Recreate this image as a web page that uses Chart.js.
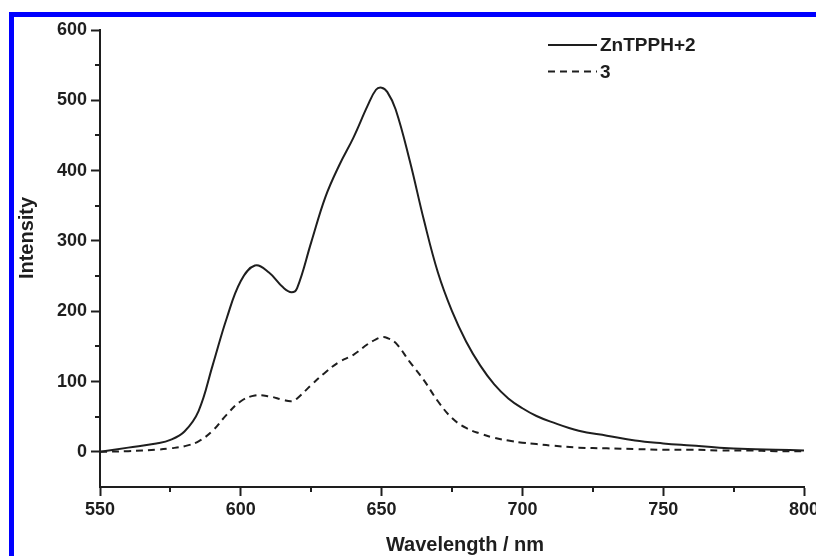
<!DOCTYPE html>
<html>
<head>
<meta charset="utf-8">
<script src="https://cdn.jsdelivr.net/npm/chart.js@4/dist/chart.umd.min.js"></script>
<style>
  html, body { margin: 0; padding: 0; background: #fff; }
  #wrap { position: relative; width: 816px; height: 556px; overflow: hidden; }
  #frame { position: absolute; left: 9px; top: 12px; width: 900px; height: 600px;
           border-top: 5px solid #0000ff; border-left: 5px solid #0000ff; }
  #chart { position: absolute; left: 0; top: 0; }
</style>
</head>
<body>
<div id="wrap">
  <div id="frame"></div>
  <canvas id="chart" width="816" height="556"></canvas>
</div>
<script>
// wavelength (nm)
const wavelengths = [550, 560, 570, 575, 580, 585, 590, 595, 600, 605,
  610, 615, 618, 620, 625, 630, 635, 640, 645, 648,
  650, 652, 655, 660, 665, 670, 675, 680, 685, 690,
  695, 700, 705, 710, 720, 730, 740, 750, 760, 770,
  780, 790, 800];

// ZnTPPH+2 (solid)
const intensityZn = [0, 6, 12, 17, 29, 58, 123, 190, 243, 265,
  255, 234, 227, 233, 298, 362, 408, 447, 492, 515,
  518, 512, 487, 414, 330, 255, 200, 157, 123, 96,
  76, 62, 51, 43, 30, 23, 16, 12, 9, 6,
  4, 3, 2];

// 3 (dashed)
const intensity3 = [0, 1, 3, 5, 8, 15, 30, 53, 72, 80,
  79, 74, 72, 76, 95, 113, 128, 138, 153, 160,
  163, 162, 155, 128, 102, 72, 48, 34, 26, 20,
  16, 13, 11, 9, 6, 5, 4, 3, 3, 2,
  2, 1, 1];

const seriesLabels = ["ZnTPPH+2", "3"];
const xTicks = [550, 600, 650, 700, 750, 800];
const xMinorTicks = [575, 625, 675, 725, 775];
const yTicks = [0, 100, 200, 300, 400, 500, 600];
const yMinorTicks = [50, 150, 250, 350, 450, 550];

const INK = "#1e1e1e";
const FONT = "'Liberation Sans', Arial, Helvetica, sans-serif";

function toPoints(ys) {
  return wavelengths.map((w, i) => ({ x: w, y: ys[i] }));
}

// minor ticks, legend and axis titles
const decor = {
  id: "decor",
  afterDraw(chart) {
    const ctx = chart.ctx;
    const xs = chart.scales.x;
    const ys = chart.scales.y;
    const area = chart.chartArea;
    ctx.save();
    ctx.strokeStyle = INK;
    ctx.lineWidth = 2;
    ctx.beginPath();
    xMinorTicks.forEach((v) => {
      const px = Math.round(xs.getPixelForValue(v));
      ctx.moveTo(px, area.bottom);
      ctx.lineTo(px, area.bottom + 5);
    });
    yMinorTicks.forEach((v) => {
      const py = Math.round(ys.getPixelForValue(v));
      ctx.moveTo(area.left, py);
      ctx.lineTo(area.left - 5, py);
    });
    ctx.stroke();

    // legend
    ctx.font = "bold 19px " + FONT;
    ctx.fillStyle = INK;
    ctx.textBaseline = "middle";
    ctx.textAlign = "left";
    chart.data.datasets.forEach((ds, i) => {
      const y = 45 + i * 26.5;
      ctx.setLineDash(ds.borderDash || []);
      ctx.lineWidth = 2;
      ctx.beginPath();
      ctx.moveTo(548, y);
      ctx.lineTo(597, y);
      ctx.stroke();
      ctx.setLineDash([]);
      ctx.fillText(ds.label, 600, y + 1);
    });

    // axis titles
    ctx.font = "bold 20px " + FONT;
    ctx.textAlign = "center";
    ctx.textBaseline = "alphabetic";
    ctx.fillText("Wavelength / nm", 465, 551);
    ctx.translate(33, 238);
    ctx.rotate(-Math.PI / 2);
    ctx.fillText("Intensity", 0, 0);
    ctx.restore();
  }
};

new Chart(document.getElementById("chart"), {
  type: "line",
  data: {
    datasets: [
      {
        label: seriesLabels[0],
        data: toPoints(intensityZn),
        borderColor: INK,
        borderWidth: 2,
        pointRadius: 0,
        tension: 0.4,
        fill: false
      },
      {
        label: seriesLabels[1],
        data: toPoints(intensity3),
        borderColor: INK,
        borderWidth: 2,
        borderDash: [7, 5],
        pointRadius: 0,
        tension: 0.4,
        fill: false
      }
    ]
  },
  options: {
    responsive: false,
    animation: false,
    devicePixelRatio: 1,
    layout: { padding: { top: 30, right: 12, left: 0, bottom: 0 } },
    plugins: {
      legend: { display: false },
      tooltip: { enabled: false }
    },
    scales: {
      x: {
        type: "linear",
        min: 550,
        max: 800,
        afterBuildTicks: (s) => { s.ticks = xTicks.map((v) => ({ value: v })); },
        afterFit: (s) => { s.height = 69; s.paddingLeft = 0; s.paddingRight = 0; },
        border: { display: true, color: INK, width: 2 },
        grid: { drawOnChartArea: false, drawTicks: true, tickLength: 9, tickWidth: 2, tickColor: INK },
        ticks: { color: INK, font: { family: FONT, size: 18, weight: "bold" }, padding: 3, maxRotation: 0 }
      },
      y: {
        min: -50,
        max: 600,
        afterBuildTicks: (s) => { s.ticks = yTicks.map((v) => ({ value: v })); },
        afterFit: (s) => { s.width = 100; s.paddingTop = 0; s.paddingBottom = 0; },
        border: { display: true, color: INK, width: 2 },
        grid: { drawOnChartArea: false, drawTicks: true, tickLength: 9, tickWidth: 2, tickColor: INK },
        ticks: { color: INK, font: { family: FONT, size: 18, weight: "bold" }, padding: 4 }
      }
    }
  },
  plugins: [decor]
});
</script>
</body>
</html>
